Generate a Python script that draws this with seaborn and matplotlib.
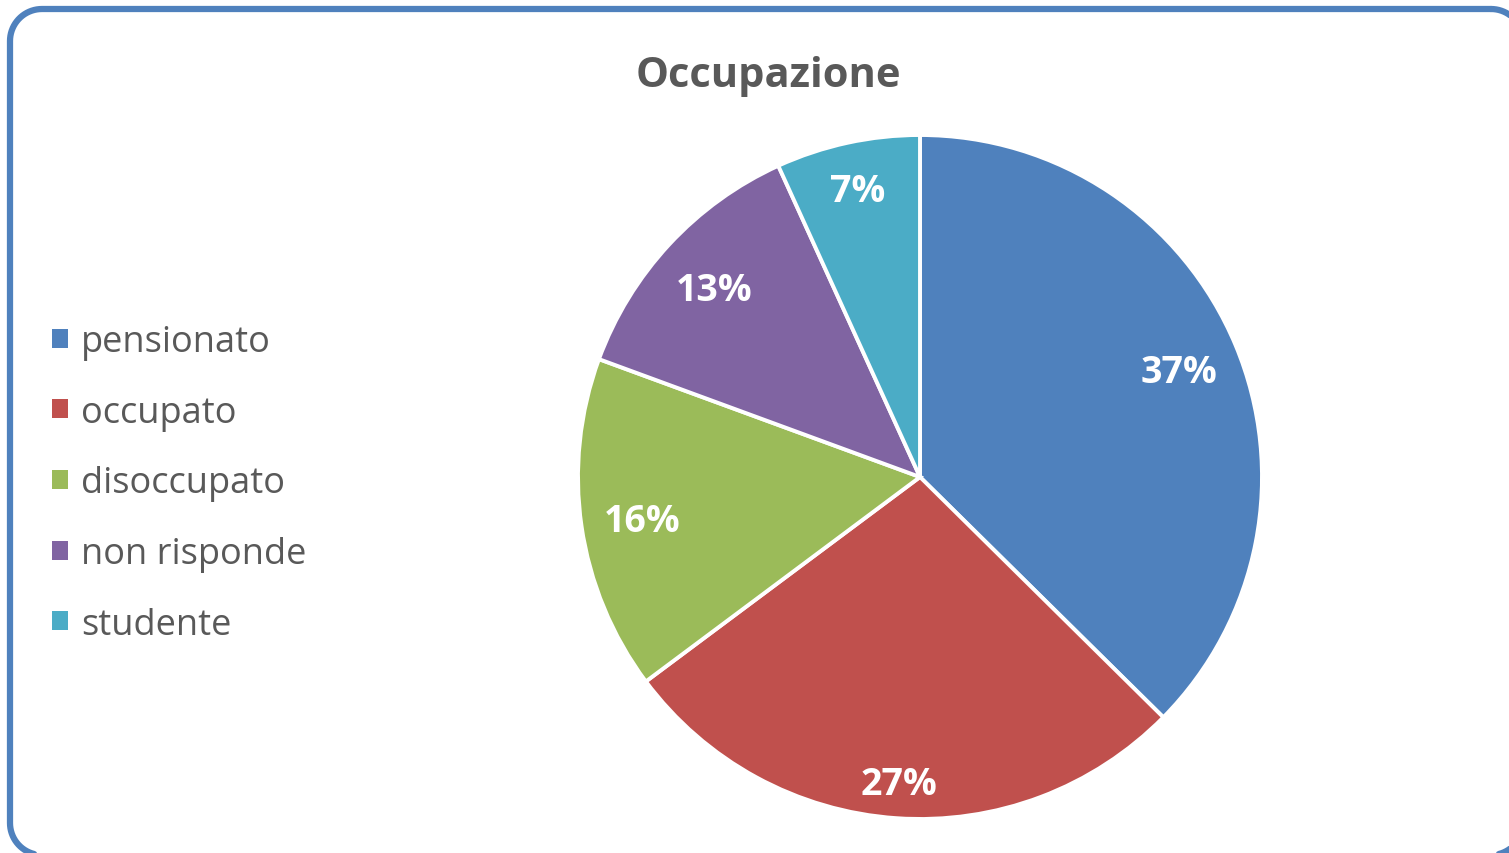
import matplotlib
matplotlib.use("Agg")
import matplotlib.pyplot as plt
from matplotlib.patches import Patch
import numpy as np
import seaborn as sns

categories = ["pensionato", "occupato", "disoccupato", "non risponde", "studente"]
values = [37.4, 27.4, 15.8, 12.6, 6.8]
pct_labels = ["37%", "27%", "16%", "13%", "7%"]
title = "Occupazione"

sns.set_theme(style="white")
plt.rcParams['font.family'] = ['Open Sans', 'DejaVu Sans']
palette = sns.color_palette(["#4F81BD", "#C0504D", "#9BBB59", "#8064A2", "#4BACC6"])

W, H = 1509, 854
fig = plt.figure(figsize=(W / 100, H / 100), dpi=100)
fig.patch.set_facecolor("white")

# background axes in pixel units (y downward) for the rounded frame
bg = fig.add_axes([0, 0, 1, 1], zorder=-1)
bg.set_xlim(0, W)
bg.set_ylim(H, 0)
bg.axis("off")


def rounded_rect(x0, y0, x1, y1, rad, n=20):
    pts = []
    corners = [(x1 - rad, y0 + rad, -90, 0), (x1 - rad, y1 - rad, 0, 90),
               (x0 + rad, y1 - rad, 90, 180), (x0 + rad, y0 + rad, 180, 270)]
    for ccx, ccy, a0, a1 in corners:
        t = np.deg2rad(np.linspace(a0, a1, n))
        pts.append(np.column_stack([ccx + rad * np.cos(t), ccy + rad * np.sin(t)]))
    p = np.vstack(pts)
    return np.vstack([p, p[:1]])


fr = rounded_rect(10, 10, 1523, 856, 32)
bg.plot(fr[:, 0], fr[:, 1], color="#4F81BD", lw=4.5, clip_on=False,
        solid_joinstyle="round")

cx, cy, r = 920, 478, 342
ax = fig.add_axes([(cx - r) / W, (H - cy - r) / H, 2 * r / W, 2 * r / H])
wedges, _ = ax.pie(values, colors=palette, startangle=90, counterclock=False,
                   wedgeprops=dict(edgecolor="white", linewidth=2.8))
ax.set_xlim(-1, 1)
ax.set_ylim(-1, 1)
ax.set_aspect("equal")
ax.axis("off")

dists = [0.82, 0.89, 0.82, 0.82, 0.865]
for w, lab, d in zip(wedges, pct_labels, dists):
    ang = np.deg2rad((w.theta1 + w.theta2) / 2)
    ax.annotate(lab, xy=(d * np.cos(ang), d * np.sin(ang)), xytext=(0, -9.6),
                textcoords="offset points", ha="center", va="baseline",
                color="white", fontsize=27, fontweight="bold")

fig.text(768 / W, 1 - 87 / H, title, ha="center", va="baseline",
         fontsize=30, fontweight="bold", color="#595959")

handles = [Patch(facecolor=c, edgecolor="none") for c in palette]
leg = fig.legend(handles, categories, loc="upper left",
                 bbox_to_anchor=(52 / W, 1 - 325 / H), frameon=False,
                 fontsize=26, labelcolor="#595959", handlelength=0.443,
                 handleheight=0.443, handletextpad=0.36, labelspacing=0.96,
                 borderpad=0, borderaxespad=0)

fig.savefig("out.png", dpi=100)
